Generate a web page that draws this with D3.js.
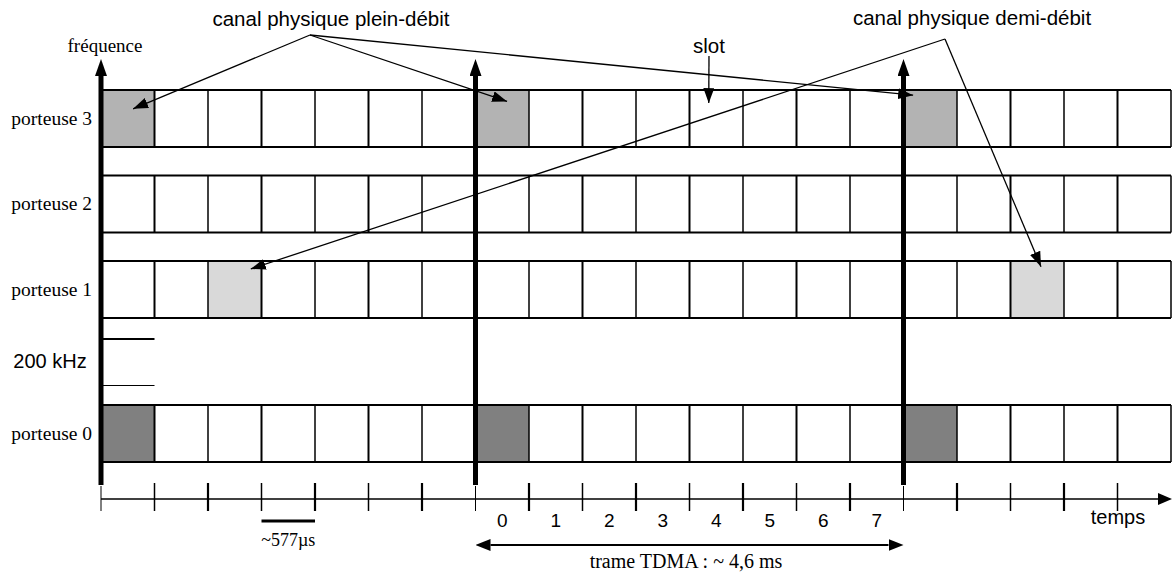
<!DOCTYPE html>
<html lang="fr">
<head>
    <meta charset="UTF-8">
    <script src="https://d3js.org/d3.v7.min.js"></script>
    <style>
        body { margin: 0; background: #fff; }
        .serif { font-family: "Liberation Serif", "Times New Roman", serif; }
        .sans { font-family: "Liberation Sans", Arial, sans-serif; }
    </style>
</head>
<body>
    <svg id="chart" width="1172" height="573"></svg>

    <script>
        // porteuses (du haut vers le bas) et découpage temporel
        const carriers = ["porteuse 3", "porteuse 2", "porteuse 1", "porteuse 0"];
        const slotCount = 20;
        const frameStarts = [0, 7, 15];
        const slotLabels = [0, 1, 2, 3, 4, 5, 6, 7];

        // slots occupés
        const fullRateP3 = [0, 7, 15];
        const fullRateP0 = [0, 7, 15];
        const halfRateP1 = [2, 17];

        const width = 1172, height = 573;
        const rowH = 57;

        const svg = d3.select("#chart")
            .attr("width", width)
            .attr("height", height);

        const x = d3.scaleLinear().domain([0, slotCount]).range([101, 1171]);
        const y = d3.scaleOrdinal().domain(carriers).range([90, 175.5, 261, 405]);

        const defs = svg.append("defs");
        function marker(id, len, h, refX) {
            defs.append("marker")
                .attr("id", id)
                .attr("markerUnits", "userSpaceOnUse")
                .attr("viewBox", `0 0 ${len} ${h}`)
                .attr("markerWidth", len)
                .attr("markerHeight", h)
                .attr("refX", refX)
                .attr("refY", h / 2)
                .attr("orient", "auto-start-reverse")
                .append("path")
                .attr("d", `M0,0 L${len},${h / 2} L0,${h} Z`)
                .attr("fill", "#000");
        }
        marker("thin", 15, 11, 15);
        marker("thick", 17, 12, 0);
        marker("axis", 14, 12, 0);
        marker("span", 15, 12, 0);

        // cases colorées
        const shaded = [
            ...fullRateP3.map(s => ({ carrier: "porteuse 3", slot: s, fill: "#b3b3b3" })),
            ...halfRateP1.map(s => ({ carrier: "porteuse 1", slot: s, fill: "#d9d9d9" })),
            ...fullRateP0.map(s => ({ carrier: "porteuse 0", slot: s, fill: "#808080" }))
        ];
        svg.selectAll(".cell")
            .data(shaded)
            .enter().append("rect")
            .attr("x", d => x(d.slot))
            .attr("y", d => y(d.carrier))
            .attr("width", x(1) - x(0))
            .attr("height", rowH)
            .attr("fill", d => d.fill);

        // grille des porteuses
        carriers.forEach(c => {
            const g = svg.append("g");
            [0, rowH].forEach(dy => {
                g.append("line")
                    .attr("x1", x(0)).attr("x2", x(slotCount))
                    .attr("y1", y(c) + dy).attr("y2", y(c) + dy)
                    .attr("stroke", "#000").attr("stroke-width", 2);
            });
            g.selectAll("line.v")
                .data(d3.range(1, slotCount + 1))
                .enter().append("line")
                .attr("class", "v")
                .attr("x1", d => x(d)).attr("x2", d => x(d))
                .attr("y1", y(c)).attr("y2", y(c) + rowH)
                .attr("stroke", "#000")
                .attr("stroke-width", d => d % 2 ? 2 : 1.5);

            svg.append("text")
                .attr("class", "serif")
                .attr("x", 92)
                .attr("y", y(c) + rowH / 2 + 6)
                .attr("text-anchor", "end")
                .style("font-size", "19.5px")
                .text(c);
        });

        // repère 200 kHz
        const gapTop = y("porteuse 1") + rowH;
        svg.append("line")
            .attr("x1", x(0)).attr("x2", x(1))
            .attr("y1", gapTop + 21).attr("y2", gapTop + 21)
            .attr("stroke", "#000").attr("stroke-width", 2);
        svg.append("line")
            .attr("x1", x(0)).attr("x2", x(1))
            .attr("y1", gapTop + 67.5).attr("y2", gapTop + 67.5)
            .attr("stroke", "#000").attr("stroke-width", 1.2);
        svg.append("text")
            .attr("class", "sans")
            .attr("x", 50)
            .attr("y", gapTop + 50)
            .attr("text-anchor", "middle")
            .style("font-size", "20px")
            .text("200 kHz");

        // axe du temps
        const axisY = 499;
        svg.append("line")
            .attr("x1", x(0)).attr("x2", 1158)
            .attr("y1", axisY).attr("y2", axisY)
            .attr("stroke", "#000").attr("stroke-width", 1.5)
            .attr("marker-end", "url(#axis)");
        svg.selectAll(".tick")
            .data(d3.range(0, slotCount))
            .enter().append("line")
            .attr("x1", d => x(d)).attr("x2", d => x(d))
            .attr("y1", d => frameStarts.includes(d) ? axisY - 13 : axisY - 16)
            .attr("y2", axisY + 12)
            .attr("stroke", "#000")
            .attr("stroke-width", d => frameStarts.includes(d) ? 1 : (d % 2 ? 1.5 : 2.2));

        // axes de fréquence (début de trame)
        svg.selectAll(".freq")
            .data(frameStarts)
            .enter().append("line")
            .attr("x1", d => x(d)).attr("x2", d => x(d))
            .attr("y1", 485).attr("y2", 76)
            .attr("stroke", "#000").attr("stroke-width", 5)
            .attr("marker-end", "url(#thick)");

        svg.append("text")
            .attr("class", "serif")
            .attr("x", 105)
            .attr("y", 52)
            .attr("text-anchor", "middle")
            .style("font-size", "19px")
            .text("fréquence");

        // numéros de slots
        const f = frameStarts[1];
        svg.selectAll(".slotnum")
            .data(slotLabels)
            .enter().append("text")
            .attr("class", "sans")
            .attr("x", d => x(f + d + 0.5))
            .attr("y", 527)
            .attr("text-anchor", "middle")
            .style("font-size", "19px")
            .text(d => d);

        svg.append("text")
            .attr("class", "sans")
            .attr("x", 1118)
            .attr("y", 524)
            .attr("text-anchor", "middle")
            .style("font-size", "20px")
            .text("temps");

        // durée d'un slot
        svg.append("line")
            .attr("x1", x(3)).attr("x2", x(4))
            .attr("y1", 521).attr("y2", 521)
            .attr("stroke", "#000").attr("stroke-width", 3);
        svg.append("text")
            .attr("class", "serif")
            .attr("x", x(3.5))
            .attr("y", 546)
            .attr("text-anchor", "middle")
            .style("font-size", "18px")
            .text("~577µs");

        // trame TDMA
        svg.append("line")
            .attr("x1", x(frameStarts[1]) + 15).attr("x2", x(frameStarts[2]) - 15)
            .attr("y1", 545).attr("y2", 545)
            .attr("stroke", "#000").attr("stroke-width", 2)
            .attr("marker-start", "url(#span)")
            .attr("marker-end", "url(#span)");
        svg.append("text")
            .attr("class", "serif")
            .attr("x", 686)
            .attr("y", 568)
            .attr("text-anchor", "middle")
            .style("font-size", "20px")
            .text("trame TDMA : ~ 4,6 ms");

        // annotations
        const notes = [
            { label: "canal physique plein-débit", lx: 331, ly: 26, ox: 310, oy: 35,
              targets: [["porteuse 3", 0.6, 0.33], ["porteuse 3", 7.59, 0.2], ["porteuse 3", 15.18, 0.09]] },
            { label: "canal physique demi-débit", lx: 972, ly: 25, ox: 945, oy: 39,
              targets: [["porteuse 1", 2.8, 0.14], ["porteuse 1", 17.57, 0.1]] },
            { label: "slot", lx: 709, ly: 53, ox: 709, oy: 56,
              targets: [["porteuse 3", 11.36, 0.23]] }
        ];
        notes.forEach(n => {
            svg.append("text")
                .attr("class", "sans")
                .attr("x", n.lx)
                .attr("y", n.ly)
                .attr("text-anchor", "middle")
                .style("font-size", "20.5px")
                .text(n.label);
            n.targets.forEach(([c, s, dy]) => {
                svg.append("line")
                    .attr("x1", n.ox).attr("y1", n.oy)
                    .attr("x2", x(s)).attr("y2", y(c) + dy * rowH)
                    .attr("stroke", "#000").attr("stroke-width", 1.3)
                    .attr("marker-end", "url(#thin)");
            });
        });
    </script>
</body>
</html>
